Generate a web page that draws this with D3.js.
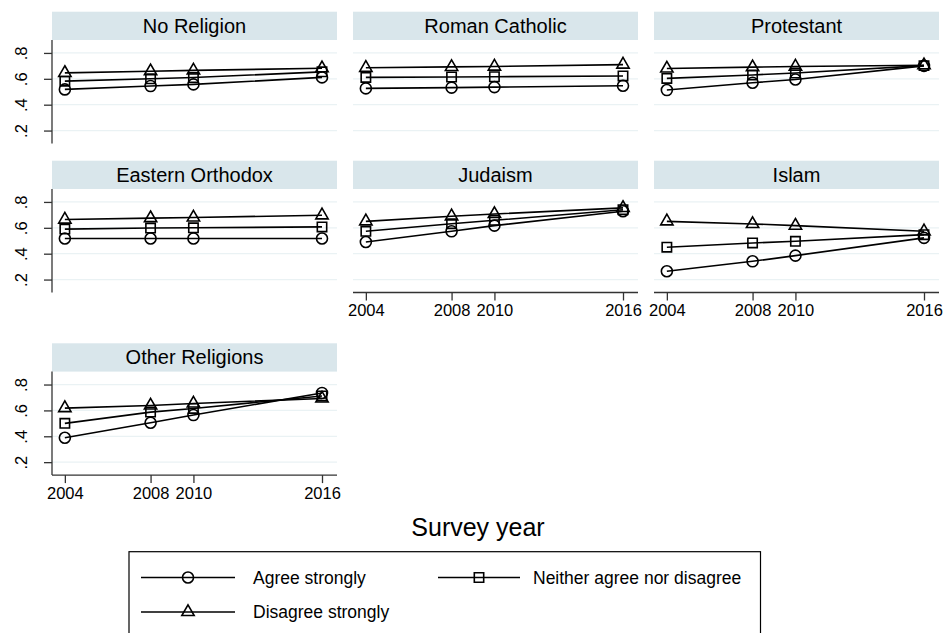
<!DOCTYPE html>
<html>
<head>
<meta charset="utf-8">
<script src="https://cdn.jsdelivr.net/npm/d3@7"></script>
<style>
  body { margin: 0; background: #fff; }
  text { font-family: "Liberation Sans", Arial, sans-serif; fill: #000; }
</style>
</head>
<body>
<div id="chart"></div>
<script>
// survey years on the x axis
var years = [2004, 2008, 2010, 2016];

// one panel per religion, in reading order
var religions = ["No Religion", "Roman Catholic", "Protestant",
                 "Eastern Orthodox", "Judaism", "Islam", "Other Religions"];

// share per year, one row per religion (same order as above)
var agreeStrongly = [
  [0.518, 0.544, 0.557, 0.611],
  [0.526, 0.532, 0.536, 0.546],
  [0.513, 0.570, 0.595, 0.700],
  [0.517, 0.517, 0.517, 0.517],
  [0.490, 0.573, 0.617, 0.728],
  [0.264, 0.341, 0.385, 0.522],
  [0.389, 0.505, 0.564, 0.735]
];
var neitherAgree = [
  [0.582, 0.600, 0.610, 0.654],
  [0.611, 0.614, 0.616, 0.622],
  [0.603, 0.630, 0.645, 0.702],
  [0.590, 0.598, 0.600, 0.607],
  [0.573, 0.632, 0.658, 0.740],
  [0.450, 0.483, 0.496, 0.547],
  [0.500, 0.587, 0.615, 0.712]
];
var disagreeStrongly = [
  [0.646, 0.659, 0.665, 0.682],
  [0.685, 0.692, 0.695, 0.710],
  [0.680, 0.690, 0.695, 0.705],
  [0.664, 0.675, 0.680, 0.697],
  [0.650, 0.689, 0.707, 0.754],
  [0.650, 0.630, 0.617, 0.573],
  [0.618, 0.638, 0.654, 0.692]
];

var yTicks = [0.2, 0.4, 0.6, 0.8];

// series definitions (label + marker)
var seriesList = [
  {name: "Agree strongly", values: agreeStrongly, symbol: d3.symbolCircle, size: 95},
  {name: "Neither agree nor disagree", values: neitherAgree, symbol: d3.symbolSquare, size: 88},
  {name: "Disagree strongly", values: disagreeStrongly, symbol: d3.symbolTriangle, size: 66}
];

var width = 944, height = 633;
var svg = d3.select("#chart").append("svg")
    .attr("width", width)
    .attr("height", height);

// panel layout
var panelW = 285, panelH = 103.5, headH = 28.3;
var colX = [52, 353, 654];
var rowTop = [11.7, 160.7, 343.3];
var headFill = "#d9e6eb", gridColor = "#eaf2f4", axisColor = "#333";

var x = d3.scaleLinear().domain([2003.4, 2016.7]).range([0, panelW]);
var y = d3.scaleLinear().domain([0.1, 0.9]).range([panelH, 0]);

var line = d3.line()
    .x(function(d){ return x(d.year); })
    .y(function(d){ return y(d.value); });

religions.forEach(function(rel, i){
  var col = i % 3, row = Math.floor(i / 3);
  var g = svg.append("g")
      .attr("transform", "translate(" + colX[col] + "," + rowTop[row] + ")");

  // header strip
  g.append("rect")
      .attr("width", panelW).attr("height", headH)
      .attr("fill", headFill);
  g.append("text")
      .attr("x", panelW / 2).attr("y", headH / 2 + 7)
      .attr("text-anchor", "middle")
      .style("font-size", "20px")
      .text(rel);

  var p = g.append("g").attr("transform", "translate(0," + headH + ")");

  // grid lines
  p.selectAll(".grid").data(yTicks).enter().append("line")
      .attr("x1", 0).attr("x2", panelW)
      .attr("y1", function(d){ return y(d); })
      .attr("y2", function(d){ return y(d); })
      .attr("stroke", gridColor).attr("stroke-width", 1.3);

  // y axis only on the first column
  if (col == 0){
    var ya = p.append("g")
        .call(d3.axisLeft(y).tickValues(yTicks).tickSize(8)
              .tickFormat(function(d){ return d3.format(".1f")(d).replace(/^0/, ""); }));
    ya.select(".domain").attr("stroke", axisColor).attr("stroke-width", 1.3).attr("d", "M0,0V" + panelH);
    ya.selectAll(".tick line").attr("stroke", axisColor).attr("stroke-width", 1.3);
    ya.selectAll(".tick text")
        .attr("x", null).attr("dy", null)
        .attr("transform", "translate(-25,0) rotate(-90)")
        .attr("text-anchor", "middle")
        .style("font-size", "16.5px")
        .style("font-family", "Liberation Sans, Arial, sans-serif");
  }

  // x axis on bottom panels
  if (i >= 4){
    var xa = p.append("g")
        .attr("transform", "translate(0," + panelH + ")")
        .call(d3.axisBottom(x).tickValues(years).tickSize(8).tickFormat(d3.format("d")));
    xa.select(".domain").attr("stroke", axisColor).attr("stroke-width", 1.3).attr("d", "M0,0H" + panelW);
    xa.selectAll(".tick line").attr("stroke", axisColor).attr("stroke-width", 1.3);
    xa.selectAll(".tick text")
        .attr("y", 12).attr("dy", "0.71em")
        .style("font-size", "16.5px")
        .style("font-family", "Liberation Sans, Arial, sans-serif");
  }

  // lines + markers for each series
  seriesList.forEach(function(s){
    var pts = years.map(function(yr, k){ return {year: yr, value: s.values[i][k]}; });
    p.append("path")
        .datum(pts)
        .attr("d", line)
        .attr("fill", "none")
        .attr("stroke", "#000")
        .attr("stroke-width", 1.6);
    p.selectAll(null).data(pts).enter().append("path")
        .attr("d", d3.symbol().type(s.symbol).size(s.size))
        .attr("transform", function(d){ return "translate(" + x(d.year) + "," + y(d.value) + ")"; })
        .attr("fill", "none")
        .attr("stroke", "#000")
        .attr("stroke-width", 1.6);
  });
});

// x axis title
svg.append("text")
    .attr("x", 478).attr("y", 536)
    .attr("text-anchor", "middle")
    .style("font-size", "25px")
    .text("Survey year");

// legend
var legend = svg.append("g");
legend.append("rect")
    .attr("x", 129).attr("y", 551.7)
    .attr("width", 631.5).attr("height", 100)
    .attr("fill", "#fff").attr("stroke", "#000").attr("stroke-width", 1.2);

var legendPos = [
  {x1: 141, x2: 235, tx: 253, y: 577.5},
  {x1: 438, x2: 520, tx: 533, y: 577.5},
  {x1: 141, x2: 235, tx: 253, y: 612}
];
seriesList.forEach(function(s, k){
  var lp = legendPos[k];
  legend.append("line")
      .attr("x1", lp.x1).attr("x2", lp.x2)
      .attr("y1", lp.y).attr("y2", lp.y)
      .attr("stroke", "#000").attr("stroke-width", 1.6);
  legend.append("path")
      .attr("d", d3.symbol().type(s.symbol).size(s.size))
      .attr("transform", "translate(" + ((lp.x1 + lp.x2) / 2) + "," + lp.y + ")")
      .attr("fill", "none").attr("stroke", "#000").attr("stroke-width", 1.6);
  legend.append("text")
      .attr("x", lp.tx).attr("y", lp.y + 6)
      .style("font-size", "17.5px")
      .text(s.name);
});
</script>
</body>
</html>
